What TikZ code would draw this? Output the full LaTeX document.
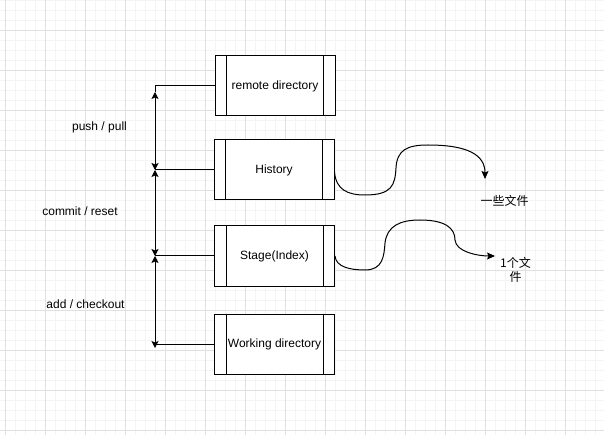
\documentclass[tikz,border=0pt]{standalone}
\usepackage{fontspec}
\setmainfont{Liberation Sans}
\newfontfamily\cjk{Noto Sans CJK SC}
\usetikzlibrary{arrows.meta}
\definecolor{gmajor}{RGB}{224,224,224}
\definecolor{gminor}{RGB}{244,244,244}
\tikzset{
  procbox/.style={draw=black, line width=1pt, fill=white, minimum width=120pt, minimum height=60pt, inner sep=0pt, font=\fontsize{12}{14}\selectfont},
  lbl/.style={font=\fontsize{12}{14}\selectfont, inner sep=0pt},
  conn/.style={line width=1pt, draw=black},
  tip/.style={{Stealth[length=7pt,width=7pt,inset=1.5pt]}-{Stealth[length=7pt,width=7pt,inset=1.5pt]}},
  endtip/.style={-{Stealth[length=8pt,width=7pt,inset=1.5pt]}}
}
\begin{document}
\begin{tikzpicture}[x=1pt,y=-1pt]
\useasboundingbox (0,0) rectangle (604,435);
\fill[white] (0,0) rectangle (604,435);
% grid
\foreach \x in {5,15,...,604} \draw[gminor, line width=0.8pt] (\x,0) -- (\x,435);
\foreach \y in {0,10,...,435} \draw[gminor, line width=0.8pt] (0,\y) -- (604,\y);
\foreach \x in {5,45,...,604} \draw[gmajor, line width=0.8pt] (\x,0) -- (\x,435);
\foreach \y in {30,70,...,435} \draw[gmajor, line width=0.8pt] (0,\y) -- (604,\y);

% boxes
\node[procbox] (remote) at (275,86) {remote directory};
\node[procbox] (hist) at (274,170) {History};
\node[procbox] (stage) at (274.5,256) {Stage(Index)};
\node[procbox] (work) at (274.5,344) {Working directory};
\foreach \n in {remote,hist,stage,work}{
  \draw[conn] ([xshift=12pt]\n.north west) -- ([xshift=12pt]\n.south west);
  \draw[conn] ([xshift=-12pt]\n.north east) -- ([xshift=-12pt]\n.south east);
}

% left connectors
\coordinate (c1) at (155,86);
\coordinate (t1) at (155,92);
\coordinate (c2) at (155,170);
\coordinate (c3) at (155,256);
\coordinate (c4) at (155,344);
\coordinate (b4) at (155,348);
\draw[conn] (remote.west) -- (c1) -- (t1);
\draw[conn, tip] (t1) -- (c2);
\draw[conn] (hist.west) -- (c2);
\draw[conn, tip] (c2) -- (c3);
\draw[conn] (stage.west) -- (c3);
\draw[conn, tip] (c3) -- (b4);
\draw[conn] (work.west) -- (c4);

% labels
\node[lbl] (l1) at (99.5,127) {push / pull};
\node[lbl] (l2) at (80,211) {commit / reset};
\node[lbl] (l3) at (85.5,304) {add / checkout};

% curves
\node[lbl, font=\cjk\fontsize{12}{14}\selectfont] (f1) at (504.5,201) {一些文件};
\node[lbl, font=\cjk\fontsize{12}{14}\selectfont, align=center] (f2) at (515.5,270) {1个文\\件};
\coordinate (e1) at (485,179);
\coordinate (e2) at (495,256);
\draw[conn, endtip] ([yshift=-2pt]hist.east)
  .. controls (336,190) and (348,195) .. (365,195)
  .. controls (392,195) and (395,185) .. (396,168)
  .. controls (397,150) and (407,145) .. (428,145)
  .. controls (468,145) and (485,155) .. (e1);
\draw[conn, endtip] (stage.east)
  .. controls (336,267) and (350,270) .. (365,270)
  .. controls (383,270) and (384,256) .. (385,243)
  .. controls (387,226) and (400,220) .. (420,220)
  .. controls (445,220) and (455,228) .. (455,240)
  .. controls (456,252) and (478,256) .. (e2);
\end{tikzpicture}
\end{document}
